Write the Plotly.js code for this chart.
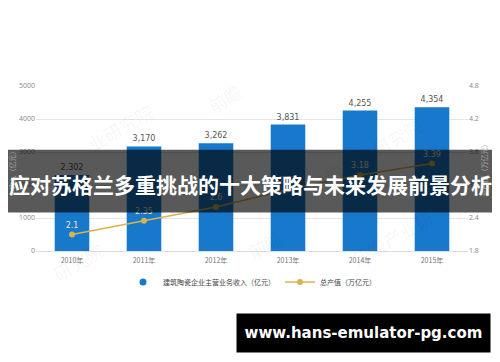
<!DOCTYPE html>
<html>
<head>
<meta charset="utf-8">
<script src="https://cdn.plot.ly/plotly-3.0.1.min.js"></script>
<style>html,body{margin:0;padding:0;background:#fff;}#chart{width:500px;height:362px;}</style>
</head>
<body>
<div id="chart"></div>
<script>
const years = ["2010年", "2011年", "2012年", "2013年", "2014年", "2015年"];
const revenue = [2302, 3170, 3262, 3831, 4255, 4354];
const output = [2.1, 2.35, 2.6, 2.92, 3.18, 3.39];
const revenueName = "建筑陶瓷企业主营业务收入（亿元）";
const outputName = "总产值（万亿元）";
const overlayTitle = "应对苏格兰多重挑战的十大策略与未来发展前景分析";
const siteText = "www.hans-emulator-pg.com";
const watermarks = ["业研究院", "前瞻", "前瞻产业研究院", "研究院", "前瞻", "前瞻产业研"];

const blue = "#1778cc";
const gold = "#d8b44c";
const cjk = "Noto Sans CJK SC, sans-serif";

const traces = [
  {
    type: "bar", x: years, y: revenue, name: revenueName, showlegend: false,
    marker: {color: blue}, width: 0.48,
    texttemplate: "%{y:,}", textposition: "outside", cliponaxis: false,
    textfont: {size: 8, color: "#555", family: "DejaVu Sans"}
  },
  {
    type: "scatter", mode: "markers", x: [null], y: [null], name: revenueName,
    marker: {color: blue, size: 7, symbol: "circle"}
  },
  {
    type: "scatter", mode: "lines+markers+text", x: years, y: output, name: outputName,
    yaxis: "y2", line: {color: gold, width: 1.5}, marker: {color: gold, size: 6},
    text: output.map(String), textposition: "top center", cliponaxis: false,
    textfont: {size: 8, color: "#efe6cc", family: "DejaVu Sans"}
  }
];

const px = v => (v - 36) / 432;
const py = v => (251.5 - v) / 165.5;

const wmPos = [[80, 95], [225, 75], [430, 110], [45, 290], [265, 268], [440, 275]];
const annotations = wmPos.map((p, i) => ({
  xref: "paper", yref: "paper", x: px(p[0]), y: py(p[1]),
  text: watermarks[i], showarrow: false, textangle: -30,
  font: {size: 18, color: "rgba(0,0,0,0.05)", family: cjk}
}));
annotations.push({
  xref: "paper", yref: "paper", x: px(250), y: py(184),
  text: "<b>" + overlayTitle + "</b>", showarrow: false,
  font: {size: 21, color: "#fff", family: cjk}
});
annotations.push({
  xref: "paper", yref: "paper", x: px(363.5), y: py(334), xanchor: "center", yanchor: "middle",
  text: "<b>" + siteText + "</b>", showarrow: false,
  width: 253, height: 38, bgcolor: "#000", borderpad: 0, align: "center", valign: "middle",
  font: {size: 15, color: "#fff", family: "DejaVu Sans"}
});

const layout = {
  width: 500, height: 362,
  margin: {l: 36, r: 32, t: 86, b: 110.5, autoexpand: false},
  paper_bgcolor: "#fff", plot_bgcolor: "#fff",
  showlegend: true,
  legend: {orientation: "h", x: 0.5, xanchor: "center", y: -0.1, yanchor: "top",
           bgcolor: "rgba(0,0,0,0)",
           font: {size: 7, color: "#444", family: cjk}, itemwidth: 30},
  xaxis: {tickfont: {size: 7, color: "#777", family: cjk}, showgrid: false,
          showline: true, linecolor: "#ddd", ticks: "", ticklabelstandoff: 3},
  yaxis: {range: [0, 5000], dtick: 1000, tickformat: "d", gridcolor: "#e6e6e6",
          zeroline: false, tickfont: {size: 7, color: "#888"},
          title: {text: "收入（亿元）", font: {size: 7, color: "#aaa", family: cjk}, standoff: 2}},
  yaxis2: {range: [1.8, 4.8], dtick: 0.6, tick0: 1.8, tickformat: ".1f", overlaying: "y",
           side: "right", showgrid: false, zeroline: false, tickfont: {size: 7, color: "#888"},
           title: {text: "总产值（万亿元）", font: {size: 7, color: "#aaa", family: cjk}, standoff: 2}},
  shapes: [
    {type: "rect", xref: "paper", yref: "paper", layer: "above",
     x0: px(8), x1: px(492), y0: py(213), y1: py(150),
     fillcolor: "rgba(0,0,0,0.65)", line: {width: 0}}
  ],
  annotations: annotations
};

Plotly.newPlot("chart", traces, layout, {displayModeBar: false, staticPlot: true});
</script>
</body>
</html>
